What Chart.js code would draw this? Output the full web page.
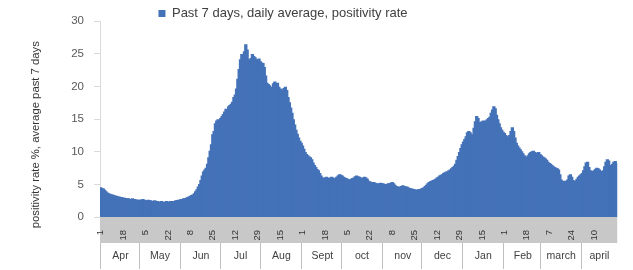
<!DOCTYPE html>
<html>
<head>
<meta charset="utf-8">
<title>Positivity rate</title>
<script src="https://cdn.jsdelivr.net/npm/chart.js@4.4.1/dist/chart.umd.min.js"></script>
<style>
  html, body { margin: 0; padding: 0; background: #fff; }
  #wrap { width: 633px; height: 270px; }
</style>
</head>
<body>
<div id="wrap"><canvas id="chart"></canvas></div>
<script>
// Month names as printed under the axis
const monthNames = ['Apr', 'May', 'Jun', 'Jul', 'Aug', 'Sept', 'oct', 'nov', 'dec', 'Jan', 'Feb', 'march', 'april'];

// Daily positivity rate (%), average past 7 days
const apr20 = [4.4, 4.3, 4.2, 4.0, 3.8, 3.6, 3.5, 3.4, 3.3, 3.3, 3.2, 3.1, 3.1, 3.0, 3.0, 2.9, 2.9, 2.8, 2.8, 2.7, 2.7, 2.7, 2.6, 2.6, 2.7, 2.6, 2.6, 2.5, 2.5, 2.5];
const may20 = [2.5, 2.5, 2.6, 2.5, 2.4, 2.4, 2.5, 2.4, 2.4, 2.3, 2.3, 2.4, 2.3, 2.3, 2.2, 2.2, 2.3, 2.2, 2.2, 2.2, 2.3, 2.2, 2.2, 2.3, 2.3, 2.2, 2.3, 2.4, 2.4, 2.5, 2.5];
const jun20 = [2.6, 2.6, 2.7, 2.7, 2.8, 2.9, 3.0, 3.1, 3.2, 3.3, 3.5, 3.8, 4.1, 4.5, 4.9, 5.5, 6.2, 6.8, 7.1, 7.4, 8.0, 9.0, 10.0, 11.0, 12.5, 13.0, 14.2, 14.6, 14.8, 14.5];
const jul20 = [15.0, 15.3, 15.6, 16.0, 16.4, 16.2, 16.8, 17.0, 17.2, 17.5, 18.2, 18.6, 19.5, 21.0, 22.5, 24.0, 24.8, 24.5, 25.2, 26.3, 25.5, 24.0, 23.8, 24.2, 24.8, 24.5, 24.3, 24.0, 23.8, 24.1, 23.7];
const aug20 = [23.5, 23.4, 22.8, 21.5, 20.4, 20.2, 20.0, 19.8, 19.7, 20.3, 20.6, 20.2, 20.4, 19.8, 19.5, 19.2, 19.4, 19.6, 19.8, 19.3, 18.2, 17.4, 16.6, 15.8, 14.8, 14.0, 13.2, 12.6, 12.0, 11.5, 11.2];
const sep20 = [10.8, 10.3, 9.8, 9.5, 9.3, 9.1, 9.0, 8.7, 8.2, 7.8, 7.5, 7.2, 7.0, 6.6, 6.2, 5.9, 5.8, 5.9, 6.0, 5.8, 5.9, 5.8, 6.0, 5.9, 5.7, 5.8, 6.0, 6.2, 6.4, 6.3];
const oct20 = [6.2, 6.0, 5.9, 5.8, 5.7, 5.6, 5.6, 5.7, 5.8, 5.9, 6.1, 6.2, 6.1, 6.0, 5.9, 5.8, 5.9, 6.0, 5.9, 5.7, 5.4, 5.3, 5.2, 5.1, 5.2, 5.1, 5.0, 4.9, 5.0, 5.1, 5.0];
const nov20 = [5.0, 4.9, 4.8, 4.9, 5.0, 5.0, 5.1, 5.2, 5.0, 4.8, 4.6, 4.5, 4.4, 4.5, 4.6, 4.7, 4.6, 4.5, 4.5, 4.4, 4.3, 4.2, 4.2, 4.1, 4.1, 4.0, 4.0, 4.1, 4.1, 4.2];
const dec20 = [4.3, 4.4, 4.6, 4.8, 5.0, 5.2, 5.3, 5.4, 5.5, 5.6, 5.7, 5.9, 6.0, 6.2, 6.3, 6.4, 6.6, 6.7, 6.8, 6.8, 7.0, 7.1, 7.3, 7.5, 7.7, 8.0, 8.6, 9.2, 9.8, 10.4, 11.0];
const jan21 = [11.4, 11.8, 12.2, 12.8, 13.0, 12.8, 12.5, 12.4, 13.5, 14.5, 15.3, 15.0, 14.4, 14.2, 14.5, 14.6, 14.4, 14.6, 14.8, 15.0, 15.2, 15.8, 16.3, 16.8, 16.5, 15.5, 14.8, 14.2, 13.6, 13.2, 12.9];
const feb21 = [12.7, 12.4, 12.2, 12.1, 12.4, 13.0, 13.6, 13.0, 12.0, 11.2, 10.8, 10.5, 10.2, 9.9, 9.6, 9.3, 9.0, 9.1, 9.3, 9.6, 9.8, 9.9, 10.0, 9.8, 9.6, 9.7, 9.8, 9.5];
const mar21 = [9.3, 9.1, 9.0, 8.8, 8.6, 8.3, 8.1, 8.0, 7.8, 7.6, 7.5, 7.4, 7.3, 7.1, 6.4, 5.6, 5.3, 5.4, 5.3, 5.4, 5.6, 6.2, 6.4, 6.0, 5.5, 5.3, 5.4, 5.7, 6.0, 6.2, 6.4];
const apr21 = [6.6, 7.0, 7.6, 8.2, 8.3, 7.5, 7.0, 6.9, 6.8, 7.0, 7.2, 7.4, 7.3, 7.1, 6.9, 6.8, 7.0, 7.6, 8.3, 8.7, 8.5, 7.8, 7.6, 8.0, 8.3, 8.4, 8.1];

const monthly = [apr20, may20, jun20, jul20, aug20, sep20, oct20, nov20, dec20, jan21, feb21, mar21, apr21];

// Day numbers are printed every 17 days (1, 18, 5, 22, ... 10), 23 of them
const dayTickStep = 17;
const dayTickCount = 23;

// Flatten months into one daily category list
const labels = [];
const days = [];
const values = [];
const monthStart = [];
const monthMid = [];
monthly.forEach((arr, m) => {
    monthStart.push(labels.length);
    monthMid.push(labels.length + Math.floor(arr.length / 2));
    arr.forEach((v, d) => {
        labels.push(monthNames[m] + ' ' + (d + 1));
        days.push(d + 1);
        values.push(v);
    });
});

// Legend in the original sits left of the canvas centre and a bit lower
const legendShift = {
    id: 'legendShift',
    afterLayout(chart) {
        const lg = chart.legend;
        lg.left -= 28;
        lg.right -= 28;
        lg.top += 9;
        lg.bottom += 9;
    }
};

Chart.defaults.font.family = "'Liberation Sans', Arial, sans-serif";

new Chart(document.getElementById('chart'), {
    type: 'bar',
    data: {
        labels: labels,
        datasets: [{
            label: 'Past 7 days, daily average, positivity rate',
            data: values,
            backgroundColor: '#4472b8',
            borderWidth: 0,
            inflateAmount: 1,
            barPercentage: 1,
            categoryPercentage: 1,
            xAxisID: 'x',
        }],
    },
    options: {
        responsive: true,
        maintainAspectRatio: false,
        animation: false,
        layout: { padding: { top: -3, right: 11, left: 0, bottom: 0 } },
        plugins: {
            legend: {
                position: 'top',
                labels: {
                    boxWidth: 7,
                    boxHeight: 7,
                    color: '#404040',
                    font: { size: 13, lineHeight: 1 },
                    padding: 1,
                },
            },
            tooltip: { enabled: false },
        },
        scales: {
            x: {
                weight: 0,
                offset: true,
                backgroundColor: '#c8c8c8',
                grid: { display: false, offset: true },
                border: { display: false },
                ticks: {
                    autoSkip: false,
                    minRotation: 90,
                    maxRotation: 90,
                    padding: 5,
                    color: '#333',
                    font: { size: 9.5 },
                    callback: (v, i) => (i % dayTickStep === 0 && i / dayTickStep < dayTickCount ? String(days[i]) : ''),
                },
                afterFit: (s) => { s.height = 26; },
            },
            xm: {
                type: 'category',
                position: 'bottom',
                weight: 1,
                offset: true,
                grid: {
                    offset: true,
                    drawOnChartArea: false,
                    tickLength: 26,
                    color: (ctx) => (monthStart.includes(ctx.index) ? '#bfbfbf' : 'rgba(0,0,0,0)'),
                },
                border: { display: false },
                ticks: {
                    autoSkip: false,
                    minRotation: 0,
                    maxRotation: 0,
                    padding: -19,
                    color: '#404040',
                    font: { size: 10.5 },
                    callback: (v, i) => {
                        const m = monthMid.indexOf(i);
                        return m >= 0 ? monthNames[m] : '';
                    },
                },
                afterFit: (s) => { s.height = 27; },
            },
            y: {
                min: 0,
                max: 30,
                ticks: { stepSize: 5, color: '#595959', font: { size: 11.5 }, padding: 10 },
                grid: { drawOnChartArea: false, tickLength: 6, color: '#d9d9d9' },
                border: { color: '#d9d9d9' },
                title: {
                    display: true,
                    text: 'positivity rate %, average past 7 days\u00a0\u00a0\u00a0\u00a0\u00a0\u00a0\u00a0\u00a0\u00a0\u00a0',
                    color: '#333',
                    font: { size: 11.3 },
                    padding: { top: 29, bottom: 0 },
                },
                afterFit: (s) => { s.width = 100; },
            },
        },
    },
    plugins: [legendShift],
});
</script>
</body>
</html>
